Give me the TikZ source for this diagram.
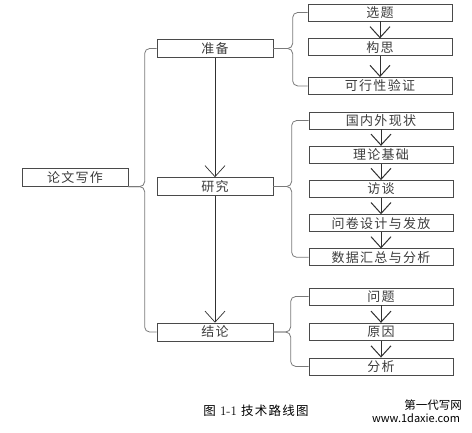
\documentclass[tikz,border=0pt]{standalone}
\usepackage{fontspec}
\usepackage{tikz}
\usetikzlibrary{arrows.meta, positioning, calc}
\newfontfamily\cjk[LetterSpace=10]{Noto Sans CJK SC}
\newfontfamily\cjkplain{Noto Sans CJK SC}
\definecolor{boxgray}{HTML}{4A4A4A}
\definecolor{bracegray}{HTML}{7A7A7A}
\definecolor{textgray}{HTML}{3C3C3C}
\definecolor{arrowgray}{HTML}{303030}

\begin{document}
\begin{tikzpicture}[
    x=1pt, y=-1pt,
    node distance=16.5pt,
    rootbox/.style={draw=boxgray, line width=0.7pt, minimum width=106pt, minimum height=17.5pt, inner sep=0pt, font=\cjk\fontsize{13}{15}\selectfont, text=textgray},
    phase/.style={draw=boxgray, line width=0.7pt, minimum width=116pt, minimum height=18pt, inner sep=0pt, font=\cjk\fontsize{13}{15}\selectfont, text=textgray},
    task/.style={draw=boxgray, line width=0.7pt, minimum width=144pt, minimum height=17pt, inner sep=0pt, font=\cjk\fontsize{13}{15}\selectfont, text=textgray},
    flow/.style={-{Straight Barb[length=11pt, width=20pt]}, line width=0.7pt, draw=arrowgray},
    subflow/.style={-{Straight Barb[length=11pt, width=20pt]}, line width=1pt, draw=arrowgray},
    brace/.style={draw=bracegray, line width=0.8pt, rounded corners=5pt}
]
\useasboundingbox (0,0) rectangle (472,432);

% Root and phases
\node[rootbox] (lunwen) at (75,177.5) {论文写作};
\node[phase] (zhunbei) at (215,48.5) {准备};
\node[phase] (yanjiu) at (215,186.5) {研究};
\node[phase] (jielun) at (215,332) {结论};

% Preparation tasks
\node[task] (xuanti) at (380,12.5) {选题};
\node[task, below=17pt of xuanti] (gousi) {构思};
\node[task, below=21pt of gousi] (kexing) {可行性验证};

% Research tasks
\node[task] (guonei) at (381,120.5) {国内外现状};
\node[task, below=of guonei] (lilun) {理论基础};
\node[task, below=of lilun] (fangtan) {访谈};
\node[task, below=of fangtan] (wenjuan) {问卷设计与发放};
\node[task, below=of wenjuan] (shuju) {数据汇总与分析};

% Conclusion tasks
\node[task] (wenti) at (381,296.5) {问题};
\node[task, below=17.5pt of wenti] (yuanyin) {原因};
\node[task, below=17pt of yuanyin] (fenxi) {分析};

% Braces
\draw[brace] (zhunbei.west) -| ([xshift=-12pt]zhunbei.west |- lunwen.south east) -- (lunwen.south east);
\draw[brace] (jielun.west) -| ([xshift=-12pt]jielun.west |- lunwen.south east) -- (lunwen.south east);
\draw[brace] (xuanti.west) -| ([xshift=-15pt]xuanti.west |- zhunbei.east) -- (zhunbei.east);
\draw[brace] (kexing.west) -| ([xshift=-15pt]kexing.west |- zhunbei.east) -- (zhunbei.east);
\draw[brace] (guonei.west) -| ([xshift=-17pt]guonei.west |- yanjiu.east) -- (yanjiu.east);
\draw[brace] (shuju.west) -| ([xshift=-17pt]shuju.west |- yanjiu.east) -- (yanjiu.east);
\draw[brace] (wenti.west) -| ([xshift=-18pt]wenti.west |- jielun.east) -- (jielun.east);
\draw[brace] (fenxi.west) -| ([xshift=-18pt]fenxi.west |- jielun.east) -- (jielun.east);

% Phase flow
\draw[flow] (zhunbei) -- (yanjiu);
\draw[flow] (yanjiu) -- (jielun);

% Task flow
\draw[subflow] (xuanti) -- (gousi);
\draw[subflow] (gousi) -- (kexing);
\draw[subflow] (guonei) -- (lilun);
\draw[subflow] (lilun) -- (fangtan);
\draw[subflow] (fangtan) -- (wenjuan);
\draw[subflow] (wenjuan) -- (shuju);
\draw[subflow] (wenti) -- (yuanyin);
\draw[subflow] (yuanyin) -- (fenxi);

% Caption and mark
\node[font=\cjk\fontsize{12.5}{14}\selectfont] (caption) at (256,411) {图 {\rmfamily\fontsize{13}{14}\selectfont 1-1} 技术路线图};
\node[font=\cjkplain\fontsize{11.5}{13}\selectfont] (markcn) at (433,405) {第一代写网};
\node[font=\cjkplain\fontsize{11}{13}\selectfont] (markurl) at (416,418) {www.1daxie.com};

\end{tikzpicture}
\end{document}
